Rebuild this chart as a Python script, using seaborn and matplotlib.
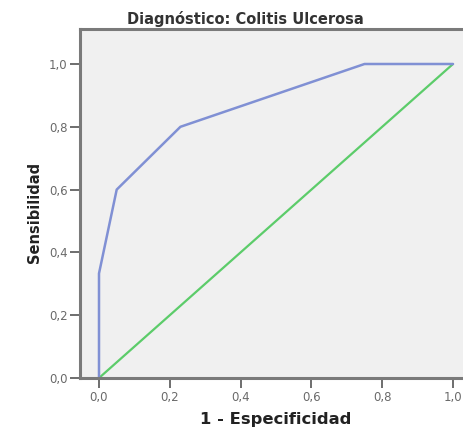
import matplotlib
matplotlib.use("Agg")
import matplotlib.pyplot as plt
import seaborn as sns
import pandas as pd

fpr = [0.0, 0.0, 0.05, 0.23, 0.75, 1.0]
tpr = [0.0, 0.333, 0.6, 0.8, 1.0, 1.0]
ref_x = [0.0, 1.0]
ref_y = [0.0, 1.0]
ticks = [0.0, 0.2, 0.4, 0.6, 0.8, 1.0]
tick_labels = ["0,0", "0,2", "0,4", "0,6", "0,8", "1,0"]

sns.set_style("white")
plt.rcParams['font.family'] = ['DejaVu Sans']

fig = plt.figure(figsize=(4.64, 4.28), dpi=100)
W, H = 464, 428
x0, x1, ytop, ybot = 80, 470, 29, 378
ax = fig.add_axes([x0 / W, 1 - ybot / H, (x1 - x0) / W, (ybot - ytop) / H])
ax.set_facecolor("#f0f0f0")

roc = pd.DataFrame({"x": fpr, "y": tpr})
diag = pd.DataFrame({"x": ref_x, "y": ref_y})
sns.lineplot(data=diag, x="x", y="y", ax=ax, color="#5ccc6a", lw=1.6, sort=False, estimator=None)
sns.lineplot(data=roc, x="x", y="y", ax=ax, color="#8090d4", lw=1.8, sort=False, estimator=None)

# axis limits from pixel mapping: x 0->99, 1->453 ; y 0->378, 1->64
sx = 354.0
sy = 314.0
ax.set_xlim((x0 - 99) / sx, (x1 - 99) / sx)
ax.set_ylim(0, (378 - ytop) / sy)

ax.set_xticks(ticks)
ax.set_xticklabels(tick_labels)
ax.set_yticks(ticks)
ax.set_yticklabels(tick_labels)
ax.tick_params(axis="both", which="both", direction="out", length=7, width=1.2,
               color="#555555", labelsize=8.5, labelcolor="#6a6a6a", pad=2,
               bottom=True, left=True)

for side in ["left", "top", "bottom"]:
    ax.spines[side].set_color("#7a7a7a")
    ax.spines[side].set_linewidth(2.2)
ax.spines["right"].set_visible(False)

ax.set_xlabel("1 - Especificidad", fontsize=11.8, fontweight="bold", color="#222222",
              va="baseline")
ax.xaxis.set_label_coords((276 - x0) / (x1 - x0), (ybot - 424) / (ybot - ytop))
ax.set_ylabel("Sensibilidad", fontsize=10.5, fontweight="bold", color="#222222",
              va="center")
ax.yaxis.set_label_coords((34.5 - x0) / (x1 - x0), (ybot - 212.5) / (ybot - ytop))
fig.text(245 / W, 1 - 24 / H, "Diagnóstico: Colitis Ulcerosa", ha="center", va="baseline",
         fontsize=10.5, fontweight="bold", color="#333333")

fig.savefig("out.png", dpi=100)
